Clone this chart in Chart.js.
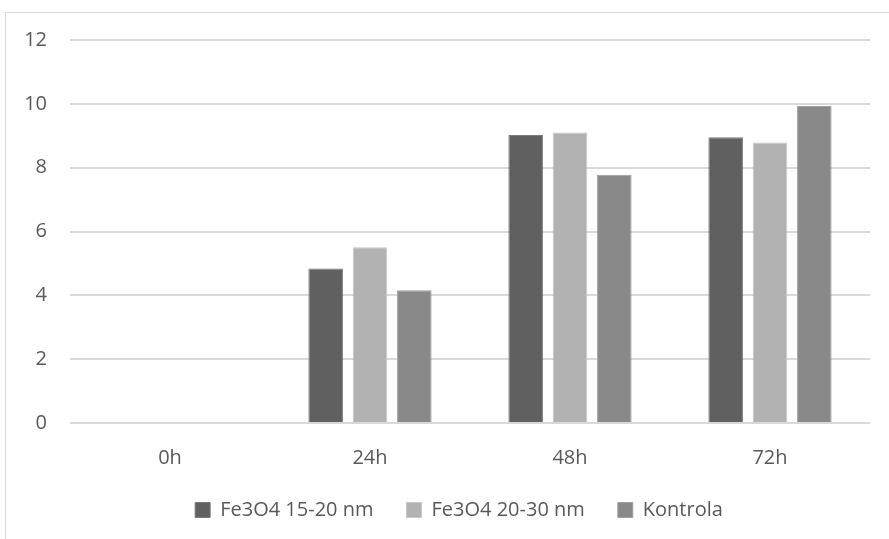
<!DOCTYPE html>
<html>
<head>
<meta charset="utf-8">
<script src="https://cdn.jsdelivr.net/npm/chart.js@4.4.1/dist/chart.umd.min.js"></script>
<style>
  html, body { margin: 0; padding: 0; background: #ffffff; }
  body { width: 889px; height: 539px; position: relative; overflow: hidden; }
  #frame { position: absolute; left: 5px; top: 12px; width: 1000px; height: 1000px;
           border-left: 1px solid #d9d9d9; border-top: 1px solid #d9d9d9; box-sizing: border-box; }
  #wrap { position: absolute; left: 0; top: 0; width: 889px; height: 539px; }
</style>
</head>
<body>
<div id="frame"></div>
<div id="wrap"><canvas id="c" width="889" height="539"></canvas></div>
<script>
const categories = ["0h", "24h", "48h", "72h"];
const seriesNames = ["Fe3O4 15-20 nm", "Fe3O4 20-30 nm", "Kontrola"];
const fe15_20 = [0, 4.84, 9.02, 8.95];
const fe20_30 = [0, 5.51, 9.10, 8.79];
const kontrola = [0, 4.16, 7.78, 9.93];
const yTicks = [0, 2, 4, 6, 8, 10, 12];

const colors = ["#606060", "#b2b2b2", "#898989"];
const edges = ["#7a7a7a", "#c6c6c6", "#a0a0a0"];
const values = [fe15_20, fe20_30, kontrola];

const FONT = "'Open Sans', 'Noto Sans', sans-serif";

const legendShift = {
  id: 'legendShift',
  afterLayout(chart) {
    if (chart.legend) { chart.legend.left += 24; chart.legend.right += 24; }
  }
};

new Chart(document.getElementById('c'), {
  type: 'bar',
  plugins: [legendShift],
  data: {
    labels: categories,
    datasets: seriesNames.map((n, i) => ({
      label: n,
      data: values[i],
      backgroundColor: colors[i],
      borderColor: edges[i],
      borderWidth: 1,
      categoryPercentage: 0.665,
      barPercentage: 0.78
    }))
  },
  options: {
    responsive: false,
    animation: false,
    devicePixelRatio: 1,
    layout: { padding: { top: 40, right: 19, left: 0, bottom: 9 } },
    plugins: {
      title: { display: false },
      tooltip: { enabled: false },
      legend: {
        position: 'bottom',
        labels: {
          boxWidth: 15, boxHeight: 15,
          color: '#595959',
          padding: 33,
          font: { family: FONT, size: 20 }
        }
      }
    },
    scales: {
      x: {
        grid: { display: false, drawTicks: false },
        border: { display: false },
        ticks: { color: '#595959', padding: 23, font: { family: FONT, size: 20 } },
        afterFit: s => { s.height = 44; }
      },
      y: {
        min: 0, max: 12,
        afterBuildTicks: s => { s.ticks = yTicks.map(v => ({ value: v })); },
        grid: { color: '#d9d9d9', lineWidth: 2, drawTicks: false },
        border: { display: false },
        ticks: { color: '#595959', padding: 23, font: { family: FONT, size: 20 } },
        afterFit: s => { s.width = 70; }
      }
    }
  }
});
</script>
</body>
</html>
